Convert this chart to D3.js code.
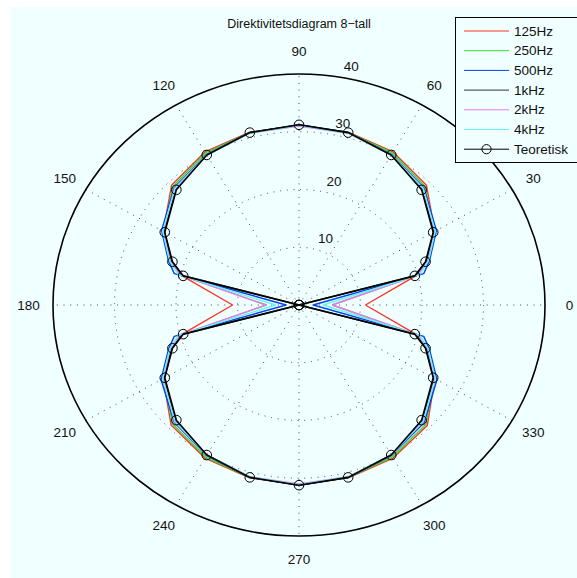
<!DOCTYPE html>
<html>
<head>
<meta charset="utf-8">
<script src="https://cdn.jsdelivr.net/npm/d3@7"></script>
<style>
  body { margin: 0; background: #fff; }
  svg text { font-family: "Liberation Sans", Arial, sans-serif; fill: #111; }
</style>
</head>
<body>
<svg id="chart" width="577" height="578"></svg>
<script>
// angles in degrees (measurement points)
const angles = [0, 15, 20, 30, 45, 60, 75, 90, 105, 120, 135, 150, 160, 165, 180,
                195, 200, 210, 225, 240, 255, 270, 285, 300, 315, 330, 340, 345, 360];

// levels (dB, offset)
const s125 = [10.8, 19.8, 22.4, 25.5, 29.3, 30.6, 31.0, 31.1, 31.0, 30.6, 29.3, 25.5, 22.4, 19.8, 10.8,
              19.8, 22.4, 25.5, 29.4, 30.6, 31.0, 31.1, 31.0, 30.6, 29.5, 25.5, 22.4, 19.8, 10.8];
const s250 = [5.4, 19.8, 22.2, 25.4, 29.0, 30.4, 30.9, 31.1, 30.9, 30.4, 29.0, 25.4, 22.2, 19.8, 5.3,
              19.8, 22.2, 25.4, 29.1, 30.4, 30.9, 31.1, 30.9, 30.4, 29.2, 25.4, 22.2, 19.8, 5.4];
const s500 = [2.3, 21.0, 22.6, 25.8, 28.7, 30.1, 30.9, 31.2, 30.9, 30.1, 28.7, 25.8, 22.6, 21.0, 2.1,
              21.0, 22.6, 25.9, 28.7, 30.1, 30.9, 31.2, 30.9, 30.1, 28.8, 25.9, 22.6, 21.0, 2.3];
const s1k  = [0, 19.7, 22.0, 25.3, 28.4, 30.0, 30.9, 31.2, 30.9, 30.0, 28.4, 25.3, 22.0, 19.7, 0,
              19.7, 22.0, 25.3, 28.4, 30.0, 30.9, 31.2, 30.9, 30.0, 28.4, 25.3, 22.0, 19.7, 0];
const s2k  = [5.4, 20.0, 22.3, 25.5, 28.6, 30.0, 30.8, 31.0, 30.8, 30.0, 28.6, 25.5, 22.3, 20.0, 5.4,
              20.0, 22.3, 25.5, 28.6, 30.0, 30.8, 31.0, 30.8, 30.0, 28.6, 25.5, 22.3, 20.0, 5.4];
const s4k  = [3.9, 20.3, 22.4, 25.6, 28.5, 30.0, 30.8, 31.1, 30.8, 30.0, 28.5, 25.6, 22.4, 20.3, 3.8,
              20.3, 22.4, 25.6, 28.5, 30.0, 30.8, 31.1, 30.8, 30.0, 28.5, 25.6, 22.4, 20.3, 3.9];
const teo  = [0, 19.5, 21.9, 25.2, 28.2, 30.0, 30.9, 31.2, 30.9, 30.0, 28.2, 25.2, 21.9, 19.5, 0,
              19.5, 21.9, 25.2, 28.2, 30.0, 30.9, 31.2, 30.9, 30.0, 28.2, 25.2, 21.9, 19.5, 0];

const seriesNames = ["125Hz", "250Hz", "500Hz", "1kHz", "2kHz", "4kHz", "Teoretisk"];
const seriesColors = ["#ff3322", "#33dd33", "#0044ee", "#333333", "#ee77ee", "#66f4f8", "#000000"];
const seriesData = [s125, s250, s500, s1k, s2k, s4k, teo];

const ringTicks = [10, 20, 30, 40];
const spokeAngles = [0, 30, 60, 90, 120, 150, 180, 210, 240, 270, 300, 330];
const titleText = "Direktivitetsdiagram 8\u2212tall";

const svg = d3.select("#chart");
const bg = "#f0ffff";
const cx = 299, cy = 305;

svg.append("rect").attr("x", 10).attr("y", 7).attr("width", 567).attr("height", 571).attr("fill", bg);

// MATLAB polar on a non-square axes -> elliptical
const sx = d3.scaleLinear().domain([0, 40]).range([0, 246]);
const sy = d3.scaleLinear().domain([0, 40]).range([0, 231]);
const rad = d => d * Math.PI / 180;
const px = (r, a) => cx + sx(r) * Math.cos(rad(a));
const py = (r, a) => cy - sy(r) * Math.sin(rad(a));

const grid = svg.append("g");
// dotted rings
ringTicks.slice(0, -1).forEach(v => {
    grid.append("ellipse")
        .attr("cx", cx).attr("cy", cy)
        .attr("rx", sx(v)).attr("ry", sy(v))
        .attr("fill", "none")
        .attr("stroke", "#444")
        .attr("stroke-width", 1)
        .attr("stroke-dasharray", "1,5.7");
});
// spokes
spokeAngles.forEach(a => {
    grid.append("line")
        .attr("x1", cx).attr("y1", cy)
        .attr("x2", px(40, a)).attr("y2", py(40, a))
        .attr("stroke", "#444")
        .attr("stroke-width", 1)
        .attr("stroke-dasharray", "1,5.7");
});
// outer circle
grid.append("ellipse")
    .attr("cx", cx).attr("cy", cy)
    .attr("rx", sx(40)).attr("ry", sy(40))
    .attr("fill", "none")
    .attr("stroke", "#000")
    .attr("stroke-width", 1.6);

// ring labels along 82 degrees
ringTicks.forEach(v => {
    grid.append("text")
        .attr("x", px(v, 82) + 18)
        .attr("y", py(v, 82) - 5)
        .attr("text-anchor", "middle")
        .attr("font-size", 13.5)
        .text(v);
});

// angle labels
spokeAngles.forEach(a => {
    grid.append("text")
        .attr("x", px(44, a))
        .attr("y", py(44, a) + 5)
        .attr("text-anchor", "middle")
        .attr("font-size", 13.5)
        .text(a);
});

// title
svg.append("text")
    .attr("x", 299).attr("y", 28)
    .attr("text-anchor", "middle")
    .attr("font-size", 12.5)
    .text(titleText);

// curves
const line = d3.line()
    .x(d => px(d[1], d[0]))
    .y(d => py(d[1], d[0]));

const plot = svg.append("g");
seriesData.forEach((vals, i) => {
    const pts = angles.map((a, j) => [a, vals[j]]);
    plot.append("path")
        .attr("d", line(pts))
        .attr("fill", "none")
        .attr("stroke", seriesColors[i])
        .attr("stroke-width", i === 3 || i === 6 ? 1.6 : 1.4)
        .attr("stroke-linejoin", "round");
    if (i === 6) {
        plot.selectAll(".mk")
            .data(pts)
            .enter()
            .append("circle")
            .attr("class", "mk")
            .attr("cx", d => px(d[1], d[0]))
            .attr("cy", d => py(d[1], d[0]))
            .attr("r", 4.8)
            .attr("fill", "none")
            .attr("stroke", "#000")
            .attr("stroke-width", 1);
    }
});

// legend
const leg = svg.append("g");
leg.append("rect")
    .attr("x", 455.5).attr("y", 17.5)
    .attr("width", 140).attr("height", 145)
    .attr("fill", bg)
    .attr("stroke", "#000")
    .attr("stroke-width", 1);
seriesNames.forEach((name, i) => {
    const y = 31 + i * 19.7;
    leg.append("line")
        .attr("x1", 464).attr("x2", 509)
        .attr("y1", y).attr("y2", y)
        .attr("stroke", seriesColors[i])
        .attr("stroke-width", 1);
    if (i === 6) {
        leg.append("circle")
            .attr("cx", 486.5).attr("cy", y).attr("r", 4.6)
            .attr("fill", "none").attr("stroke", "#000");
    }
    leg.append("text")
        .attr("x", 514).attr("y", y + 4.5)
        .attr("font-size", 13.5)
        .text(name);
});
</script>
</body>
</html>
